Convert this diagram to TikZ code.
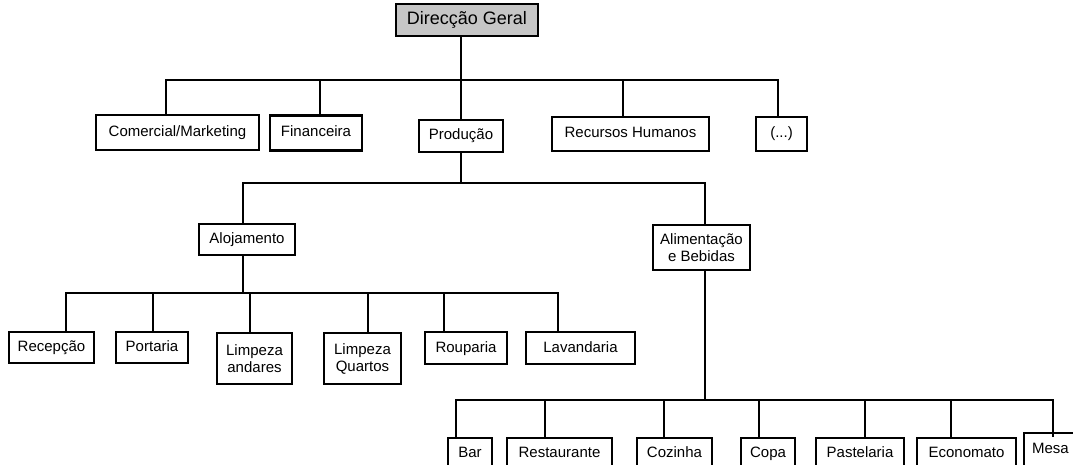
\documentclass[tikz,border=0pt]{standalone}
\usepackage{fontspec}
\setmainfont{Liberation Sans}
\begin{document}
\begin{tikzpicture}[x=1pt,y=-1pt,
  conn/.style={line width=2.1pt},
  box/.style={draw,line width=2.1pt,inner xsep=0pt,inner ysep=0pt,align=center,
    font=\fontsize{15}{17}\selectfont},
  one/.style={box,text height=11pt,text depth=3pt},
  low/.style={draw,line width=2.1pt,inner xsep=0pt,inner ysep=8pt,anchor=north,
    font=\fontsize{15}{17}\selectfont,text height=11pt,text depth=20pt},
  title/.style={draw,line width=2.1pt,fill=gray!45,inner xsep=0pt,inner ysep=0pt,
    font=\fontsize{18}{20}\selectfont,text height=13pt,text depth=4pt}]
\useasboundingbox (0,0) rectangle (1073,465);
\clip (0,0) rectangle (1073,465);
% level 0
\node[title,minimum width=142pt,minimum height=32pt] (dg) at (467,20) {Direcção Geral};
% level 1
\node[one,minimum width=163pt,minimum height=35pt] (com) at (177.5,132.5) {Comercial/Marketing};
\node[one,minimum width=92pt,minimum height=35pt] (fin) at (316,133) {Financeira};
\node[one,minimum width=84pt,minimum height=32pt] (prod) at (461,136) {Produção};
\node[one,minimum width=157pt,minimum height=34pt] (rh) at (630.5,134) {Recursos Humanos};
\node[one,minimum width=51pt,minimum height=34pt] (etc) at (781.5,134) {(...)};
% level 2
\node[one,minimum width=96pt,minimum height=31pt] (aloj) at (247,239.5) {Alojamento};
\node[box,minimum width=97pt,minimum height=45pt] (ab) at (701.5,247.5) {Alimentação\\e Bebidas};
% level 3
\node[one,minimum width=85pt,minimum height=31pt] (rec) at (51.5,347.5) {Recepção};
\node[one,minimum width=72pt,minimum height=31pt] (por) at (152,347.5) {Portaria};
\node[box,minimum width=75pt,minimum height=51pt] (la) at (254.5,358.5) {Limpeza\\andares};
\node[box,minimum width=77pt,minimum height=51pt] (lq) at (362.5,358.5) {Limpeza\\Quartos};
\node[one,minimum width=82pt,minimum height=32pt] (rou) at (466,348) {Rouparia};
\node[one,minimum width=109pt,minimum height=32pt] (lav) at (580.5,348) {Lavandaria};
% level 4
\node[low,minimum width=44pt] (bar) at (470,437) {Bar};
\node[low,minimum width=105pt] (res) at (559.5,437) {Restaurante};
\node[low,minimum width=75pt] (coz) at (674.5,437) {Cozinha};
\node[low,minimum width=54pt] (copa) at (768,437) {Copa};
\node[low,minimum width=88pt] (pas) at (860,437) {Pastelaria};
\node[low,minimum width=99pt] (eco) at (966.5,437) {Economato};
\node[low,anchor=north west,inner xsep=8pt,inner ysep=9pt,minimum width=70pt,
  text width=54pt,align=left] (mesa) at (1023,432) {Mesa};
% bus levels
\coordinate (bus1) at (0,80);
\coordinate (bus2) at (0,183);
\coordinate (bus3) at (0,293);
\coordinate (bus4) at (0,400);
% attachment points
\coordinate (dgB) at ([xshift=-6pt]dg.south);
\coordinate (comT) at ([xshift=-11.5pt]com.north);
\coordinate (finT) at ([xshift=4pt]fin.north);
\coordinate (rhT) at ([xshift=-7.5pt]rh.north);
\coordinate (etcT) at ([xshift=-3.5pt]etc.north);
\coordinate (alojT) at ([xshift=-4pt]aloj.north);
\coordinate (alojB) at ([xshift=-4pt]aloj.south);
\coordinate (abT) at ([xshift=3.5pt]ab.north);
\coordinate (abB) at ([xshift=3.5pt]ab.south);
\coordinate (recT) at ([xshift=14.5pt]rec.north);
\coordinate (porT) at ([xshift=1pt]por.north);
\coordinate (laT) at ([xshift=-4.5pt]la.north);
\coordinate (lqT) at ([xshift=5.5pt]lq.north);
\coordinate (rouT) at ([xshift=-22pt]rou.north);
\coordinate (lavT) at ([xshift=-22.5pt]lav.north);
\coordinate (barT) at ([xshift=-14pt]bar.north);
\coordinate (resT) at ([xshift=-14.5pt]res.north);
\coordinate (cozT) at ([xshift=-10.5pt]coz.north);
\coordinate (copaT) at ([xshift=-9pt]copa.north);
\coordinate (pasT) at ([xshift=5pt]pas.north);
\coordinate (ecoT) at ([xshift=-15.5pt]eco.north);
\coordinate (mesaT) at ([xshift=30pt,yshift=-5pt]mesa.north west);
% level 0 -> 1
\draw[conn] (dgB) -- (prod.north);
\draw[conn] (comT) -- (comT |- bus1) -- (etcT |- bus1) -- (etcT);
\draw[conn] (finT) -- (finT |- bus1);
\draw[conn] (rhT) -- (rhT |- bus1);
% level 1 -> 2
\draw[conn] (prod.south) -- (prod.south |- bus2);
\draw[conn] (alojT) -- (alojT |- bus2) -- (abT |- bus2) -- (abT);
% level 2 -> 3
\draw[conn] (alojB) -- (alojB |- bus3);
\draw[conn] (recT) -- (recT |- bus3) -- (lavT |- bus3) -- (lavT);
\draw[conn] (porT) -- (porT |- bus3);
\draw[conn] (laT) -- (laT |- bus3);
\draw[conn] (lqT) -- (lqT |- bus3);
\draw[conn] (rouT) -- (rouT |- bus3);
% level 2 -> 4
\draw[conn] (abB) -- (abB |- bus4);
\draw[conn] (barT) -- (barT |- bus4) -- (mesaT |- bus4) -- (mesaT);
\draw[conn] (resT) -- (resT |- bus4);
\draw[conn] (cozT) -- (cozT |- bus4);
\draw[conn] (copaT) -- (copaT |- bus4);
\draw[conn] (pasT) -- (pasT |- bus4);
\draw[conn] (ecoT) -- (ecoT |- bus4);
\end{tikzpicture}
\end{document}
